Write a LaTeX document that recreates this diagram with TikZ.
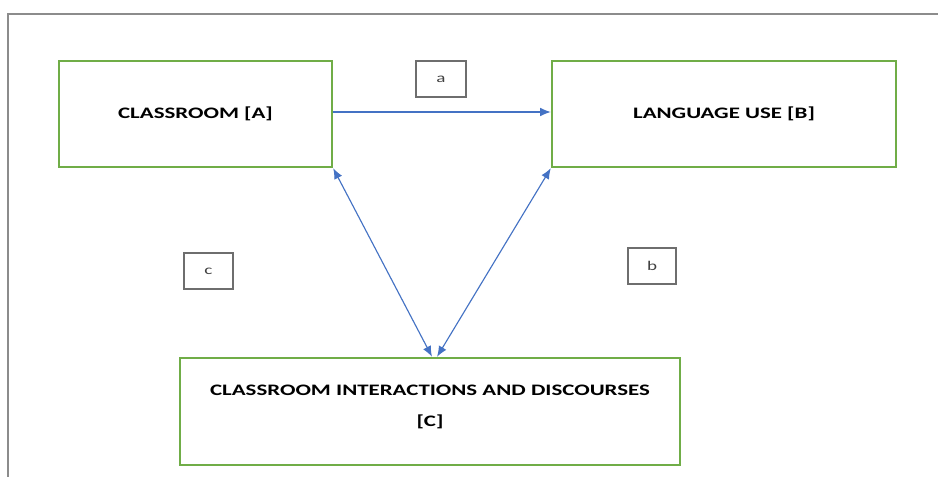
\documentclass[tikz,border=0pt]{standalone}
\usepackage{fontspec}
\setmainfont{Carlito}
\usetikzlibrary{arrows.meta,calc}
\definecolor{boxgreen}{RGB}{112,173,71}
\definecolor{arrowblue}{RGB}{68,114,196}
\definecolor{framegray}{RGB}{140,140,140}
\definecolor{labgray}{RGB}{110,110,110}
\tikzset{
  mainbox/.style={draw=boxgreen, line width=1.8pt, rectangle, align=center, font=\bfseries\fontsize{12pt}{14pt}\selectfont},
  maintext/.style={font=\bfseries\fontsize{12pt}{14pt}\selectfont},
  labbox/.style={draw=labgray, line width=1.1pt, rectangle, font=\fontsize{10pt}{11pt}\selectfont, text=black!75},
  conn/.style={draw=arrowblue, line width=0.85pt, -{Latex[length=8pt,width=6.5pt]}},
  bconn/.style={draw=arrowblue, line width=0.85pt, {Latex[length=8pt,width=6.5pt]}-{Latex[length=8pt,width=6.5pt]}},
}
\newcommand{\wide}[1]{\scalebox{1.43}[1]{#1}}
\begin{document}
\begin{tikzpicture}[x=0.75pt,y=-0.75pt]
\useasboundingbox (0,0) rectangle (938,477);
\fill[white] (0,0) rectangle (938,477);
% outer frame
\draw[framegray, line width=1.5pt] (8,477) -- (8,14) -- (938,14);
% main boxes
\node[mainbox, minimum width=273*0.75pt, minimum height=106*0.75pt] (A) at (195.5,114) {\wide{CLASSROOM [A]}};
\node[mainbox, minimum width=344*0.75pt, minimum height=106*0.75pt] (B) at (724,114) {\wide{LANGUAGE USE [B]}};
\node[mainbox, minimum width=500*0.75pt, minimum height=107*0.75pt] (C) at (430,411.5) {};
\node[maintext] (Ct1) at (430,390) {\wide{CLASSROOM INTERACTIONS AND DISCOURSES}};
\node[maintext] (Ct2) at (430,422) {\wide{[C]}};
% label boxes
\node[labbox, minimum width=50*0.75pt, minimum height=36*0.75pt] (la) at (441,79) {\wide{a}};
\node[labbox, minimum width=49*0.75pt, minimum height=36*0.75pt] (lc) at (208.5,271) {\wide{c}};
\node[labbox, minimum width=48*0.75pt, minimum height=36*0.75pt] (lb) at (652,266) {\wide{b}};
% connectors
\coordinate (ca) at ($(C.north west)!0.504!(C.north east)$);
\coordinate (cb) at ($(C.north west)!0.514!(C.north east)$);
\draw[conn] ($(A.east)+(0,-2)$) -- ($(B.west)+(0,-2)$);
\draw[bconn] (A.south east) -- (ca);
\draw[bconn] (B.south west) -- (cb);
\end{tikzpicture}
\end{document}
